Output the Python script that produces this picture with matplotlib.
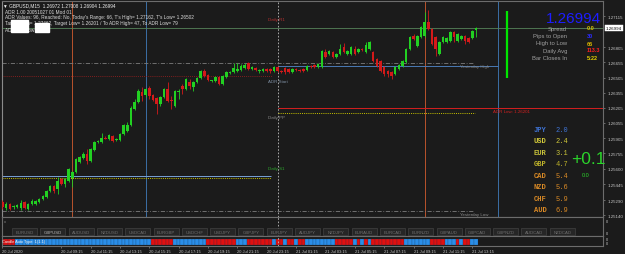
import matplotlib
matplotlib.use("Agg")
import matplotlib.pyplot as plt
import numpy as np

# ---------------- data ----------------
opens = [
    1.2527, 1.2521, 1.2525, 1.2522, 1.2522, 1.2521, 1.2527, 1.2520, 1.2525, 1.2525,
    1.2527, 1.2530, 1.2532, 1.2538, 1.2543, 1.2540, 1.2550, 1.2545, 1.2548, 1.2551,
    1.2557, 1.2567, 1.2571, 1.2575, 1.2568, 1.2579, 1.2587, 1.2587, 1.2591, 1.2590,
    1.2592, 1.2589, 1.2589, 1.2594, 1.2597, 1.2603, 1.2619, 1.2626, 1.2636, 1.2633,
    1.2640, 1.2633, 1.2630, 1.2624, 1.2631, 1.2639, 1.2628, 1.2622, 1.2636, 1.2642,
    1.2639, 1.2646, 1.2641, 1.2646, 1.2650, 1.2657, 1.2653, 1.2647, 1.2647, 1.2651,
    1.2644, 1.2651, 1.2655, 1.2656, 1.2657, 1.2658, 1.2660, 1.2665, 1.2659, 1.2660,
    1.2657, 1.2657, 1.2659, 1.2659, 1.2657, 1.2661, 1.2657, 1.2660, 1.2659, 1.2656,
    1.2659, 1.2658, 1.2659, 1.2658, 1.2662, 1.2663, 1.2661, 1.2661, 1.2676, 1.2674,
    1.2676, 1.2671, 1.2674, 1.2681, 1.2674, 1.2674, 1.2679, 1.2676, 1.2679, 1.2676,
    1.2679, 1.2676, 1.2669, 1.2667, 1.2661, 1.2657, 1.2656, 1.2654, 1.2659, 1.2662,
    1.2666, 1.2679, 1.2692, 1.2682, 1.2691, 1.2692, 1.2706, 1.2699, 1.2691, 1.2674,
    1.2686, 1.2686, 1.2687, 1.2696, 1.2687, 1.2689, 1.2692, 1.2690, 1.2690, 1.26972]
closes = [
    1.2522, 1.2525, 1.2520, 1.2523, 1.2524, 1.2526, 1.2521, 1.2525, 1.2528, 1.2528,
    1.2530, 1.2533, 1.2538, 1.2543, 1.2538, 1.2548, 1.2545, 1.2550, 1.2560, 1.2557,
    1.2570, 1.2572, 1.2575, 1.2568, 1.2580, 1.2587, 1.2588, 1.2591, 1.2590, 1.2593,
    1.2588, 1.2590, 1.2594, 1.2603, 1.2603, 1.2620, 1.2626, 1.2637, 1.2632, 1.2639,
    1.2632, 1.2628, 1.2624, 1.2631, 1.2639, 1.2627, 1.2627, 1.2637, 1.2637, 1.2639,
    1.2649, 1.2642, 1.2646, 1.2650, 1.2657, 1.2652, 1.2648, 1.2648, 1.2651, 1.2644,
    1.2652, 1.2656, 1.2656, 1.2660, 1.2659, 1.2662, 1.2663, 1.2659, 1.2661, 1.2658,
    1.2658, 1.2659, 1.2657, 1.2657, 1.2661, 1.2657, 1.2656, 1.2656, 1.2656, 1.2659,
    1.2658, 1.2657, 1.2657, 1.2662, 1.2661, 1.2661, 1.2664, 1.2677, 1.2671, 1.2677,
    1.2671, 1.2674, 1.2679, 1.2676, 1.2677, 1.2681, 1.2674, 1.2679, 1.2678, 1.2683,
    1.2686, 1.2667, 1.2662, 1.2657, 1.2654, 1.2654, 1.2652, 1.2661, 1.2663, 1.2667,
    1.2679, 1.2691, 1.2689, 1.2692, 1.2701, 1.2706, 1.2699, 1.2684, 1.2679, 1.2686,
    1.2691, 1.2690, 1.2696, 1.2691, 1.2694, 1.2692, 1.2687, 1.2686, 1.2697, 1.26994]
highs = [
    1.2529, 1.2527, 1.2526, 1.2524, 1.2525, 1.2529, 1.2528, 1.2526, 1.2530, 1.2529,
    1.2531, 1.2534, 1.2539, 1.2544, 1.2544, 1.2552, 1.2551, 1.2551, 1.2561, 1.2558,
    1.2571, 1.2573, 1.2577, 1.2580, 1.2581, 1.2588, 1.2589, 1.2595, 1.2592, 1.2594,
    1.2593, 1.2591, 1.2595, 1.2604, 1.2606, 1.2622, 1.2629, 1.2639, 1.2641, 1.2640,
    1.2642, 1.2634, 1.2631, 1.2632, 1.2640, 1.2646, 1.2632, 1.2638, 1.2639, 1.2644,
    1.2650, 1.2649, 1.2647, 1.2651, 1.2658, 1.2659, 1.2654, 1.2648, 1.2652, 1.2652,
    1.2653, 1.2657, 1.2657, 1.2665, 1.2665, 1.2664, 1.2665, 1.2666, 1.2662, 1.2661,
    1.2659, 1.2660, 1.2660, 1.2660, 1.2662, 1.2662, 1.2658, 1.2661, 1.2660, 1.2660,
    1.2660, 1.2659, 1.2660, 1.2663, 1.2663, 1.2664, 1.2665, 1.2678, 1.2679, 1.2678,
    1.2677, 1.2675, 1.2684, 1.2685, 1.2678, 1.2682, 1.2682, 1.2680, 1.2680, 1.2686,
    1.2687, 1.2677, 1.2670, 1.2668, 1.2662, 1.2658, 1.2657, 1.2662, 1.2664, 1.2668,
    1.2680, 1.2692, 1.2694, 1.2693, 1.2702, 1.2716, 1.2717, 1.2700, 1.2692, 1.2687,
    1.2692, 1.2691, 1.2697, 1.2697, 1.2695, 1.2693, 1.2693, 1.2691, 1.2698, 1.27008]
lows = [
    1.2520, 1.2519, 1.2519, 1.2520, 1.2521, 1.2519, 1.2520, 1.2519, 1.2524, 1.2524,
    1.2526, 1.2529, 1.2531, 1.2537, 1.2536, 1.2535, 1.2544, 1.2542, 1.2547, 1.2542,
    1.2556, 1.2566, 1.2570, 1.2565, 1.2567, 1.2578, 1.2586, 1.2586, 1.2590, 1.2589,
    1.2587, 1.2588, 1.2588, 1.2593, 1.2596, 1.2602, 1.2618, 1.2625, 1.2627, 1.2631,
    1.2629, 1.2627, 1.2614, 1.2622, 1.2630, 1.2626, 1.2619, 1.2621, 1.2629, 1.2634,
    1.2638, 1.2639, 1.2637, 1.2645, 1.2649, 1.2651, 1.2647, 1.2646, 1.2646, 1.2643,
    1.2643, 1.2650, 1.2654, 1.2655, 1.2656, 1.2657, 1.2659, 1.2658, 1.2658, 1.2657,
    1.2655, 1.2656, 1.2656, 1.2655, 1.2656, 1.2656, 1.2655, 1.2654, 1.2655, 1.2655,
    1.2657, 1.2656, 1.2656, 1.2657, 1.2660, 1.2660, 1.2660, 1.2660, 1.2670, 1.2673,
    1.2670, 1.2670, 1.2673, 1.2675, 1.2673, 1.2673, 1.2673, 1.2675, 1.2677, 1.2675,
    1.2678, 1.2666, 1.2661, 1.2656, 1.2652, 1.2651, 1.2649, 1.2653, 1.2658, 1.2661,
    1.2665, 1.2678, 1.2688, 1.2681, 1.2690, 1.2691, 1.2698, 1.2683, 1.2672, 1.2673,
    1.2685, 1.2685, 1.2686, 1.2686, 1.2686, 1.2688, 1.2684, 1.2685, 1.2689, 1.26904]

# per-bar strength colour (R = red, B = blue)
strength_bars = ("RRRR"
                 "BBBBBBBBBBBBBBBBBBBBBBBBBBBBBBBBBBBBB"
                 "RRRRRR" "BBBBBBBBB" "RRRRRRRR" "BBB" "RRRRRRR" "B" "RR" "B" "RR" "B" "RR"
                 "BBBBBBBB" "RRRRR" "B" "R" "B" "R" "B" "RRRRRRRRR" "BBBBBBB" "RRRR" "BBB"
                 "R" "B" "RR" "BB")

price_ticks = [1.27115, 1.26805, 1.26655, 1.26505, 1.26355, 1.26205, 1.26055,
               1.25905, 1.25755, 1.25600, 1.25445, 1.25290, 1.25140]
time_tick_bars = [0, 16, 24, 32, 40, 48, 56, 64, 72, 80, 88, 96, 104, 112, 120, 128]
time_tick_labels = ["20 Jul 2020", "20 Jul 09:15", "20 Jul 11:15", "20 Jul 13:15",
                    "20 Jul 15:15", "20 Jul 17:15", "20 Jul 19:15", "20 Jul 21:15",
                    "20 Jul 23:15", "21 Jul 01:15", "21 Jul 03:15", "21 Jul 05:15",
                    "21 Jul 07:15", "21 Jul 09:15", "21 Jul 11:15", "21 Jul 13:15"]

london_bars = [19, 115]
newyork_bars = [39, 135]
day_start_bar = 75
range_bar_pos = 137.5

bid = 1.26994
yesterday_high = 1.2665
yesterday_low = 1.25181
daily_pp = 1.26153
adr_low = 1.26201
today_high = 1.27162
today_low = 1.26502
prev_adr_level = 1.26520
today_open_level = 1.26619
prev_pp_level = 1.25528
prev_s_level = 1.25508

currencies = ["JPY", "USD", "EUR", "GBP", "CAD", "NZD", "CHF", "AUD"]
currency_strength = [2.0, 2.4, 3.1, 4.7, 5.4, 5.6, 5.9, 6.9]
currency_colors = ["#3f74d6", "#d2c93a", "#c8c23a", "#c0b42a", "#d98a26", "#d98a26", "#d98a26", "#dd8a24"]

buttons = ["EURUSD", "GBPUSD", "AUDUSD", "NZDUSD", "USDCAD", "EURGBP", "USDCHF", "USDJPY",
           "GBPJPY", "EURJPY", "AUDJPY", "NZDJPY", "EURAUD", "EURCAD", "EURNZD", "GBPAUD",
           "GBPCAD", "GBPNZD", "AUDCAD", "NZDCAD"]

info_labels = ["Spread", "Pips to Open", "High to Low", "Daily Avg", "Bar Closes In"]
info_values = ["0.0", "30", "66", "113.3", "5:22"]
info_colors = ["#d8c400", "#2a2aff", "#d8b400", "#ff2020", "#e6d200"]

header_lines = [
    "\u25bc GBPUSD,M15  1.26972 1.27008 1.26904 1.26994",
    "ADR 1.00 20051027 01 Mod 01",
    "ADR Values: 96, Reached: No, Today's Range: 66, T's High= 1.27162, T's Low= 1.26502",
    "Target High= 1.27462, Target Low= 1.26201 / To ADR High= 47, To ADR Low= 79",
    "ADR 69% low",
]

# ---------------- layout ----------------
W, H = 625, 255
BG = "#1b1b1b"
BULL = "#22d022"
BEAR = "#d41a1a"
FONT = "Liberation Sans"

fig = plt.figure(figsize=(W / 100, H / 100), dpi=100, facecolor=BG)


def frect(x0, y0, x1, y1):
    return [x0 / W, 1 - y1 / H, (x1 - x0) / W, (y1 - y0) / H]


XL = (-0.136, 163.62)
ax = fig.add_axes(frect(2, 2, 603, 218))
ax.set_facecolor(BG)
ax.set_xlim(*XL)
ax.set_ylim(1.251214, 1.272642)

idx = np.arange(len(opens))
o = np.array(opens)
c = np.array(closes)
cols = np.where(c >= o, BULL, BEAR)
ax.vlines(idx, lows, highs, colors=cols, linewidth=0.6, zorder=3)
hgt = np.maximum(np.abs(c - o), 0.00003)
ax.bar(idx, hgt, bottom=np.minimum(o, c), width=0.7, color=cols, linewidth=0, zorder=4)

# vertical session lines
for b in london_bars:
    ax.axvline(b, color="#b9532c", lw=0.7, zorder=1)
for b in newyork_bars:
    ax.axvline(b, color="#3c6fa6", lw=0.7, zorder=1)
ax.axvline(day_start_bar, color="#bdbdbd", lw=0.6, ls=(0, (2, 2)), zorder=1)

# horizontal levels
ax.axhline(bid, color="#56845a", lw=0.6, zorder=2)
ax.hlines(yesterday_high, XL[0], 128.2, color="#7c7c7c", lw=0.6, ls=(0, (5, 2, 1, 2)), zorder=1)
ax.hlines(yesterday_low, XL[0], 128.2, color="#7c7c7c", lw=0.6, ls=(0, (5, 2, 1, 2)), zorder=1)
ax.hlines(prev_adr_level, XL[0], 73.4, color="#a42020", lw=0.6, ls=(0, (1, 1.5)), zorder=1)
ax.hlines(today_open_level, day_start_bar, 135.0, color="#4a79b4", lw=0.7, zorder=1)
ax.hlines(adr_low, day_start_bar, XL[1], color="#d42020", lw=0.7, zorder=1)
ax.hlines(daily_pp, day_start_bar, 128.8, color="#c9c400", lw=0.7, ls=(0, (1, 1.2)), zorder=1)
ax.hlines(prev_pp_level, XL[0], 73.2, color="#79a2d6", lw=0.7, zorder=1)
ax.hlines(prev_s_level, XL[0], 73.2, color="#c9c400", lw=0.7, ls=(0, (1, 1.2)), zorder=1)
ax.vlines(range_bar_pos, today_low, today_high, color="#00e600", lw=1.6, zorder=3)

ax.yaxis.tick_right()
ax.set_yticks(price_ticks)
ax.set_yticklabels(["%.5f" % t for t in price_ticks], fontfamily=FONT)
ax.tick_params(axis="y", colors="#8a8a8a", labelcolor="#c4c4c4", labelsize=3.2, length=1.5, width=0.5, pad=1.5)
ax.set_xticks([])
for s in ax.spines.values():
    s.set_color("#6c6c6c")
    s.set_linewidth(0.8)
ax.spines["left"].set_color("#8a8a8a")

ax.annotate("%.5f" % bid, xy=(1.0, bid), xycoords=("axes fraction", "data"),
            xytext=(2.2, 0), textcoords="offset points", va="center", ha="left",
            fontsize=3.2, fontfamily=FONT, color="#000000",
            bbox=dict(boxstyle="square,pad=0.25", fc="#ffffff", ec="#ffffff", lw=0.3),
            annotation_clip=False, zorder=10)

# sub window 1 (buttons)
ax1 = fig.add_axes(frect(2, 218, 603, 237))
ax1.set_facecolor(BG)
ax1.set_xlim(*XL)
ax1.set_ylim(0, 1)
ax1.set_xticks([]); ax1.set_yticks([])
for s in ax1.spines.values():
    s.set_color("#6c6c6c"); s.set_linewidth(0.8)
ax1.axvline(day_start_bar, color="#bdbdbd", lw=0.6, ls=(0, (2, 2)))

# sub window 2 (strength bars + time axis)
ax2 = fig.add_axes(frect(2, 237, 603, 247))
ax2.set_facecolor(BG)
ax2.set_xlim(*XL)
ax2.set_ylim(-0.167, 1.5)
cell_cols = ["#e01010" if ch == "R" else "#2b8ee8" for ch in strength_bars]
ax2.bar(np.arange(len(strength_bars)), 1.0, bottom=0, width=1.0, color=cell_cols,
        edgecolor="#16334f", linewidth=0.15)
ax2.axvline(day_start_bar, color="#bdbdbd", lw=0.6, ls=(0, (2, 2)))
ax2.set_yticks([])
ax2.set_xticks(time_tick_bars)
ax2.set_xticklabels(time_tick_labels, ha="left", fontfamily=FONT)
ax2.tick_params(axis="x", colors="#8a8a8a", labelcolor="#c4c4c4", labelsize=2.9, length=1.5, width=0.5, pad=0.8)
for s in ax2.spines.values():
    s.set_color("#6c6c6c"); s.set_linewidth(0.8)

# ---------------- overlay (pixel coordinates) ----------------
ov = fig.add_axes([0, 0, 1, 1], zorder=20)
ov.set_xlim(0, W)
ov.set_ylim(H, 0)
ov.axis("off")
ov.patch.set_alpha(0)


def t(x, y, s, color="#c8c8c8", size=3.3, ha="left", va="center", **kw):
    ov.text(x, y, s, color=color, fontsize=size, ha=ha, va=va, fontfamily=kw.pop("family", FONT), **kw)


# header
hy = [5.5, 12, 18, 24, 30]
for i, line in enumerate(header_lines):
    t(3 if i == 0 else 5, hy[i], line, color="#f0f0f0" if i == 0 else "#dcdcdc", size=3.4)
ov.add_patch(plt.Rectangle((11, 20.5), 17, 12.5, color="#ffffff", zorder=5))
ov.add_patch(plt.Rectangle((35, 23.5), 14, 9.5, color="#ffffff", zorder=5))

# chart labels
t(268, 20, "Daily R1", color="#b83030", size=3.2)
t(268, 82, "ADR Start", color="#7d8ea2", size=3.2)
t(268, 118, "Daily PP", color="#8a8a8a", size=3.2)
t(268, 169, "Daily S1", color="#2ea82e", size=3.2)
t(460, 67.5, "Yesterday High", color="#8a8a8a", size=3.2)
t(460, 215, "Yesterday Low", color="#8a8a8a", size=3.2)
t(493, 112, "ADR Low: 1.26201", color="#d42020", size=3.2)

# info panel
t(601, 19, "%.5f" % bid, color="#1d1dff", size=11, ha="right")
iy = [29, 36.5, 44, 51, 58]
for lab, val, col, y in zip(info_labels, info_values, info_colors, iy):
    t(567, y, lab, color="#a0a0a0", size=4.2, ha="right")
    t(587, y, val, color=col, size=4.0, fontweight="bold")

# currency strength table
cy = [131, 142, 153.5, 165, 177, 188, 199.5, 211]
for name, val, col, y in zip(currencies, currency_strength, currency_colors, cy):
    t(534, y, name, color=col, size=5.0, family="Liberation Mono", fontweight="bold")
    t(556, y, "%.1f" % val, color=col, size=5.0, family="Liberation Mono")
t(571.5, 160, "+0.1", color="#2bd42b", size=12.5, ha="left")
t(586, 175.5, "0.0", color="#2bd42b", size=4.0, ha="center")

# buttons
for k, name in enumerate(buttons):
    x0 = 12 + 28.3 * k
    ov.add_patch(plt.Rectangle((x0, 229), 25, 7, fc="#262626", ec="#4a4a4a", lw=0.4))
    t(x0 + 12.5, 232.6, name, color="#b8b8b8" if name == "GBPUSD" else "#707070", size=3.1, ha="center")
t(3.5, 222, "x", color="#8a8a8a", size=3.0)

# strength label and sub-window scale labels
t(2.5, 242.5, "Candle Auto Type: 1(1.1)", color="#f0f0f0", size=2.8)
for y, s in [(222, "0"), (234, "0"), (240.5, "0"), (244.5, "0")]:
    t(606, y, s, color="#c4c4c4", size=2.8)

fig.savefig("out.png", dpi=100, facecolor=BG)
